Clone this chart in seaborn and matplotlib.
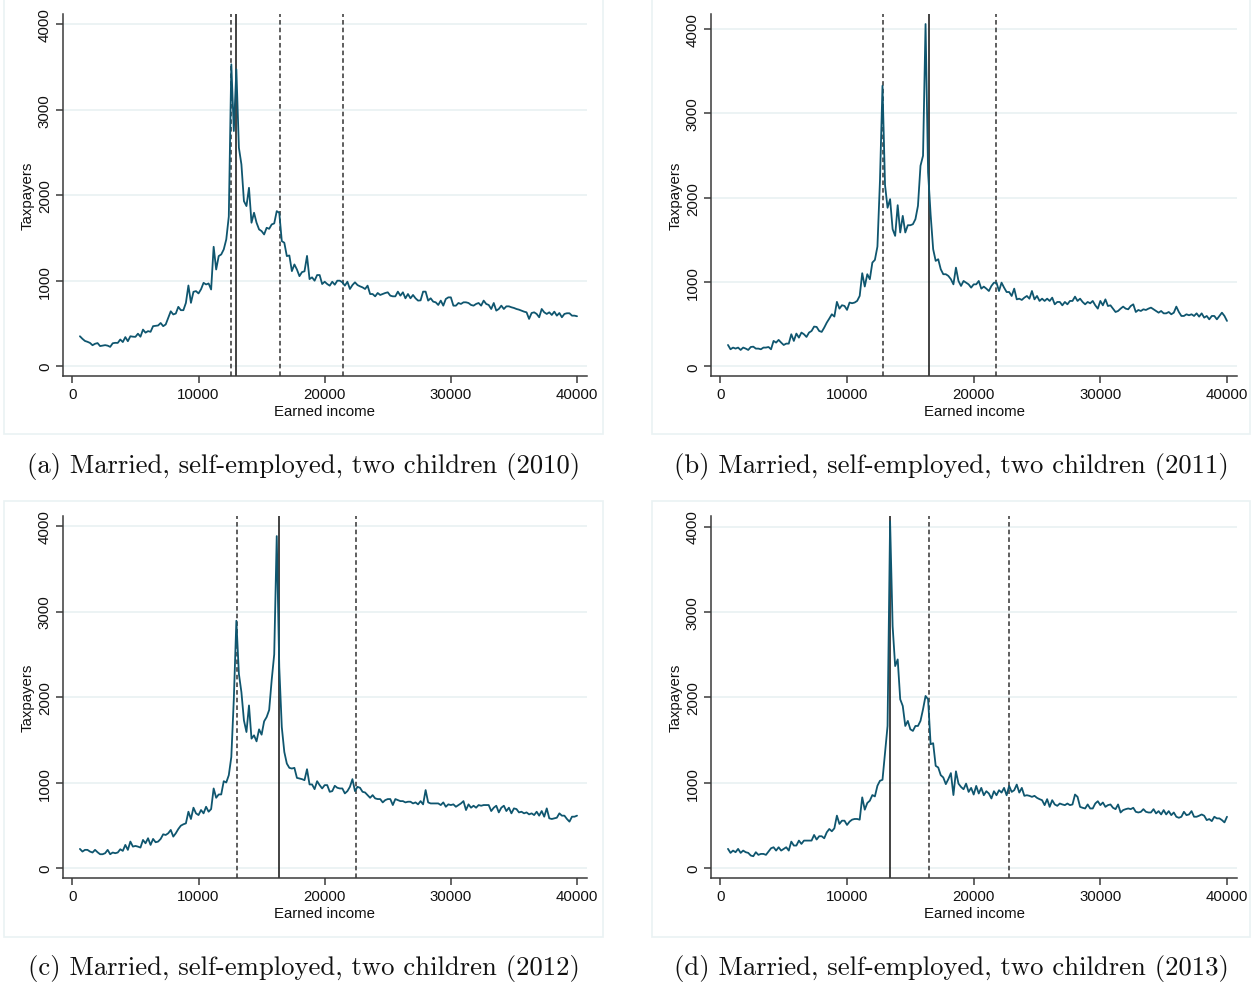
import numpy as np
import pandas as pd
import matplotlib
matplotlib.use("Agg")
import matplotlib.pyplot as plt
import seaborn as sns
from matplotlib.patches import Rectangle

# income bins (width 200), shared by all four panels
income = np.arange(600, 40001, 200)

# taxpayers per bin, one row per 2000 of income (row starts at 600, 2600, ...)
taxpayers_2010 = [
    350, 320, 295, 285, 272, 245, 262, 270, 235, 240,
    246, 240, 226, 268, 273, 272, 312, 282, 340, 292,
    350, 345, 343, 380, 345, 428, 392, 410, 402, 468,
    472, 476, 505, 468, 488, 565, 642, 605, 616, 694,
    655, 655, 740, 944, 741, 870, 878, 851, 900, 975,
    956, 968, 897, 1397, 1131, 1288, 1307, 1366, 1483, 1750,
    3531, 2751, 3472, 2556, 2361, 1931, 1873, 2087, 1678, 1795,
    1678, 1600, 1580, 1541, 1619, 1607, 1658, 1670, 1814, 1795,
    1463, 1444, 1288, 1295, 1112, 1190, 1131, 1053, 1100, 1110,
    1290, 1019, 1039, 1000, 1066, 1066, 961, 988, 961, 942,
    988, 953, 1000, 1000, 981, 942, 988, 903, 949, 981,
    949, 934, 922, 903, 942, 844, 844, 817, 856, 833,
    844, 856, 864, 825, 817, 817, 872, 825, 864, 794,
    844, 794, 833, 794, 767, 770, 872, 872, 767, 794,
    755, 747, 716, 767, 708, 786, 805, 805, 708, 708,
    739, 728, 747, 747, 739, 716, 708, 728, 739, 708,
    767, 728, 716, 669, 739, 650, 669, 708, 669, 700,
    700, 689, 681, 669, 661, 650, 638, 630, 553, 622,
    630, 611, 572, 669, 630, 611, 630, 599, 638, 591,
    622, 572, 611, 619, 619, 591, 591, 584,
]

taxpayers_2011 = [
    253, 202, 222, 210, 222, 194, 222, 210, 194, 229,
    233, 210, 210, 202, 222, 222, 229, 202, 301, 281,
    313, 281, 253, 269, 269, 380, 301, 388, 340, 400,
    380, 348, 400, 419, 471, 467, 419, 408, 459, 518,
    566, 617, 590, 764, 684, 724, 716, 669, 756, 748,
    756, 776, 835, 1104, 946, 1092, 1033, 1230, 1262, 1420,
    2200, 3327, 2150, 1880, 1982, 1626, 1547, 1911, 1587, 1784,
    1587, 1673, 1673, 1685, 1745, 1903, 2378, 2497, 4059, 2300,
    1800, 1389, 1250, 1270, 1151, 1092, 1092, 1072, 1033, 972,
    1170, 1012, 953, 1012, 992, 972, 933, 972, 972, 1012,
    921, 945, 921, 893, 953, 992, 992, 893, 992, 933,
    881, 881, 834, 921, 794, 802, 787, 814, 834, 802,
    893, 794, 834, 775, 802, 775, 802, 775, 814, 735,
    763, 763, 723, 763, 735, 775, 775, 826, 775, 802,
    763, 735, 763, 747, 775, 723, 684, 775, 723, 794,
    715, 723, 684, 644, 656, 684, 708, 684, 676, 715,
    735, 644, 668, 656, 676, 668, 684, 696, 676, 656,
    636, 656, 628, 628, 644, 617, 636, 708, 644, 597,
    597, 617, 605, 617, 597, 628, 589, 628, 577, 597,
    557, 597, 597, 557, 597, 636, 597, 538,
]

taxpayers_2012 = [
    225, 194, 214, 214, 194, 183, 214, 186, 163, 163,
    175, 214, 163, 183, 175, 183, 221, 202, 272, 214,
    311, 252, 260, 252, 241, 330, 291, 350, 272, 342,
    303, 311, 342, 396, 388, 408, 447, 369, 408, 458,
    497, 513, 524, 660, 575, 707, 641, 621, 680, 641,
    718, 660, 691, 932, 823, 862, 862, 1017, 1002, 1087,
    1300, 1981, 2893, 2272, 2058, 1728, 1592, 1903, 1515, 1553,
    1483, 1623, 1561, 1717, 1767, 1850, 2200, 2500, 3883, 2350,
    1650, 1359, 1223, 1173, 1165, 1173, 1056, 1049, 1041, 1029,
    1157, 979, 979, 924, 1017, 971, 932, 971, 971, 893,
    901, 963, 940, 932, 932, 874, 901, 951, 1041, 901,
    951, 940, 893, 885, 854, 823, 854, 816, 808, 808,
    769, 796, 808, 808, 738, 808, 796, 784, 784, 769,
    777, 777, 757, 769, 746, 784, 746, 913, 769, 757,
    757, 757, 757, 738, 769, 718, 746, 738, 746, 718,
    738, 757, 784, 680, 746, 707, 730, 707, 738, 730,
    738, 738, 738, 668, 707, 730, 652, 707, 730, 668,
    707, 641, 699, 691, 652, 660, 641, 652, 629, 641,
    621, 660, 614, 668, 602, 699, 583, 575, 583, 590,
    641, 614, 614, 575, 544, 602, 602, 614,
]

taxpayers_2013 = [
    226, 179, 206, 187, 226, 179, 206, 187, 179, 148,
    140, 187, 156, 167, 167, 156, 195, 233, 245, 206,
    245, 206, 226, 245, 206, 311, 265, 265, 323, 284,
    323, 323, 323, 323, 389, 335, 374, 374, 350, 420,
    459, 432, 467, 615, 518, 556, 556, 506, 545, 568,
    576, 576, 568, 829, 685, 763, 790, 856, 840, 965,
    1023, 1035, 1354, 1665, 4060, 2833, 2366, 2444, 1977, 1899,
    1665, 1724, 1626, 1607, 1665, 1665, 1724, 1860, 2016, 1977,
    1451, 1463, 1198, 1179, 1089, 1062, 984, 1043, 1113, 856,
    1134, 990, 951, 924, 990, 893, 940, 862, 963, 874,
    940, 854, 901, 874, 816, 901, 854, 913, 885, 940,
    854, 963, 893, 913, 979, 885, 940, 847, 854, 847,
    835, 847, 823, 808, 796, 738, 808, 718, 796, 746,
    730, 757, 746, 738, 757, 738, 746, 862, 835, 718,
    707, 699, 746, 699, 699, 757, 784, 738, 769, 718,
    738, 746, 707, 691, 746, 652, 680, 691, 699, 691,
    707, 660, 652, 660, 691, 660, 652, 652, 691, 641,
    668, 629, 680, 629, 668, 621, 652, 602, 590, 602,
    660, 621, 629, 668, 602, 602, 614, 629, 614, 563,
    575, 551, 602, 583, 583, 563, 536, 602,
]

# reference lines (earned income)
solid_lines = [13000, 16440, 16410, 13400]
dashed_lines = [
    [12600, 16450, 21430],
    [12820, 21800],
    [13025, 22450],
    [16440, 22800],
]

captions = [
    "(a) Married, self-employed, two children (2010)",
    "(b) Married, self-employed, two children (2011)",
    "(c) Married, self-employed, two children (2012)",
    "(d) Married, self-employed, two children (2013)",
]

series = [taxpayers_2010, taxpayers_2011, taxpayers_2012, taxpayers_2013]
x_ticks = [0, 10000, 20000, 30000, 40000]
y_ticks = [0, 1000, 2000, 3000, 4000]

sns.set_theme(style="white")
plt.rcParams["font.family"] = ["Liberation Sans", "DejaVu Sans"]

W, H = 1253, 987
LINE = "#0f566f"
GRID = "#eaf2f3"
AXIS = "#3a3a3a"


def px_rect(left, top, right, bottom):
    return [left / W, 1 - bottom / H, (right - left) / W, (bottom - top) / H]


# plot region and outer box in pixels, y-axis top per panel
plot_boxes = [(63, 15, 587, 377), (711, 15, 1237, 377),
              (63, 517, 587, 879), (711, 517, 1237, 879)]
outer_boxes = [(4, 0, 603, 435), (652, 0, 1250, 435),
               (4, 502, 603, 938), (652, 502, 1250, 938)]
y_tops = [4120, 4178, 4118, 4123]

fig = plt.figure(figsize=(W / 100, H / 100), dpi=100)

for i in range(4):
    vals = series[i]
    assert len(vals) == len(income), (i, len(vals))
    df = pd.DataFrame({"income": income, "taxpayers": vals})

    ax = fig.add_axes(px_rect(*plot_boxes[i]))
    ax.set_facecolor("white")
    for y in y_ticks:
        ax.axhline(y, color=GRID, lw=1.3, zorder=0)

    sns.lineplot(data=df, x="income", y="taxpayers", ax=ax,
                 color=LINE, lw=1.3, zorder=3)
    for k in dashed_lines[i]:
        ax.axvline(k, color="#333333", lw=1.1, ls=(0, (3, 2)), zorder=2)
    ax.axvline(solid_lines[i], color="#222222", lw=1.2, zorder=2)

    ax.set_xlim(-740, 40790)
    ax.set_ylim(-115, y_tops[i])
    ax.set_xticks(x_ticks)
    ax.set_xticklabels([str(t) for t in x_ticks])
    ax.set_yticks(y_ticks)
    ax.set_yticklabels([str(t) for t in y_ticks], rotation=90, va="center")

    sns.despine(ax=ax)
    for side in ["left", "bottom"]:
        ax.spines[side].set_color(AXIS)
        ax.spines[side].set_linewidth(1.1)
    ax.tick_params(axis="both", bottom=True, left=True, direction="out",
                   length=5, width=1.1, color=AXIS, labelsize=10.8,
                   labelcolor="#111111", pad=3)
    ax.set_xlabel("Earned income", fontsize=10.8, labelpad=2, color="#111111")
    ax.set_ylabel("Taxpayers", fontsize=10.8, labelpad=2, color="#111111")
    ax.grid(False)

    l, t, r, b = outer_boxes[i]
    fig.patches.append(Rectangle((l / W, 1 - b / H), (r - l) / W, (b - t) / H,
                                 transform=fig.transFigure, fill=False,
                                 edgecolor=GRID, lw=1.2, zorder=0))

    cx = (l + r) / 2 / W
    cy = 1 - (b + 31) / H
    fig.text(cx, cy, captions[i], ha="center", va="center",
             fontsize=19.2, family=["cmr10", "DejaVu Serif"], color="#111111")

fig.savefig("out.png", dpi=100)
